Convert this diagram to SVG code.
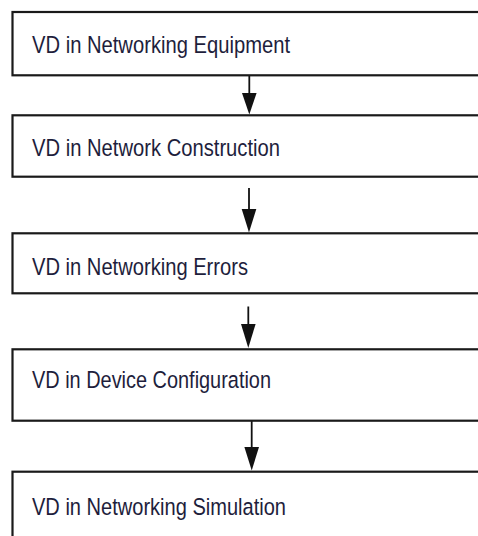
<svg xmlns="http://www.w3.org/2000/svg" width="478" height="536" viewBox="0 0 478 536">
<defs>
<style>
.box{fill:#ffffff;stroke:#1a1a1a;stroke-width:2.2}
.lbl{font-family:"Liberation Sans",Arial,sans-serif;font-size:24.5px;fill:#1e1e3c}
.con{stroke:#111111;stroke-width:1.8;fill:none}
.head{fill:#111111}
</style>
</defs>
<rect width="478" height="536" fill="#ffffff"/>
<g id="connectors">
<line class="con" x1="249.3" y1="75.5" x2="249.3" y2="96"/>
<polygon class="head" points="242,93 256.6,93 249.3,114.5"/>
<line class="con" x1="249" y1="188" x2="249" y2="212"/>
<polygon class="head" points="241.7,209 256.3,209 249,232.5"/>
<line class="con" x1="248.3" y1="306.5" x2="248.3" y2="327"/>
<polygon class="head" points="241,324 255.6,324 248.3,348"/>
<line class="con" x1="251.7" y1="421" x2="251.7" y2="450"/>
<polygon class="head" points="244.4,447 259,447 251.7,470.5"/>
</g>
<g id="node1">
<rect class="box" x="12.5" y="12" width="480" height="63.3"/>
<text class="lbl" x="32" y="53" textLength="258" lengthAdjust="spacingAndGlyphs">VD in Networking Equipment</text>
</g>
<g id="node2">
<rect class="box" x="12.5" y="115.3" width="480" height="61.4"/>
<text class="lbl" x="32" y="156" textLength="248" lengthAdjust="spacingAndGlyphs">VD in Network Construction</text>
</g>
<g id="node3">
<rect class="box" x="12.5" y="233.3" width="480" height="60"/>
<text class="lbl" x="32" y="275" textLength="216" lengthAdjust="spacingAndGlyphs">VD in Networking Errors</text>
</g>
<g id="node4">
<rect class="box" x="12.5" y="349.3" width="480" height="71.4"/>
<text class="lbl" x="32" y="388" textLength="239" lengthAdjust="spacingAndGlyphs">VD in Device Configuration</text>
</g>
<g id="node5">
<rect class="box" x="12.5" y="471.7" width="480" height="80"/>
<text class="lbl" x="32" y="515" textLength="254" lengthAdjust="spacingAndGlyphs">VD in Networking Simulation</text>
</g>
</svg>
